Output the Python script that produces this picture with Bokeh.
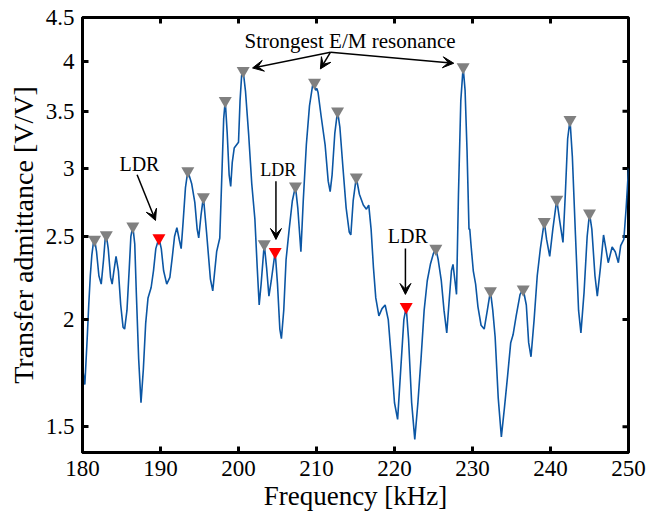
import math
from bokeh.plotting import figure
from bokeh.models import Range1d, FixedTicker, Arrow, VeeHead, Label
from bokeh.embed import file_html
from bokeh.resources import INLINE

# ---- data ----
freq = [180.0, 180.3, 180.6, 180.8, 181.0, 181.2, 181.4, 181.55, 181.8, 182.1, 182.4, 182.7, 182.9, 183.05,
        183.3, 183.6, 183.8, 184.0, 184.3, 184.6, 184.9, 185.2, 185.4, 185.7, 186.0, 186.2, 186.45, 186.7,
        186.9, 187.2, 187.5, 187.8, 188.1, 188.4, 188.8, 189.1, 189.4, 189.8, 190.1, 190.4, 190.8, 191.2,
        191.5, 191.8, 192.1, 192.4, 192.65, 192.9, 193.2, 193.5, 194.0, 194.4, 194.7, 194.9, 195.2, 195.5,
        195.9, 196.4, 196.7, 197.2, 197.6, 197.9, 198.1, 198.3, 198.55, 198.8, 199.0, 199.2, 199.45, 200.0,
        200.2, 200.4, 200.6, 200.9, 201.3, 201.7, 202.1, 202.4, 202.65, 202.9, 203.3, 203.6, 203.9, 204.2,
        204.7, 205.0, 205.3, 205.5, 205.8, 206.1, 206.5, 206.9, 207.3, 207.6, 208.0, 208.3, 208.7, 209.1,
        209.5, 209.75, 209.9, 210.05, 210.2, 210.6, 211.1, 211.5, 211.75, 212.0, 212.35, 212.7, 213.0, 213.4,
        213.8, 214.2, 214.4, 214.7, 215.1, 215.5, 216.0, 216.4, 216.7, 217.0, 217.3, 217.6, 218.0, 218.4,
        218.8, 219.2, 219.6, 220.0, 220.4, 220.8, 221.2, 221.5, 221.8, 222.2, 222.6, 223.0, 223.4, 223.8,
        224.2, 224.6, 225.0, 225.3, 225.6, 226.0, 226.35, 226.7, 227.0, 227.3, 227.5, 227.75, 227.95, 228.2,
        228.5, 228.8, 229.05, 229.3, 229.55, 229.65, 229.8, 230.1, 230.4, 230.7, 231.1, 231.5, 231.9, 232.3,
        232.6, 232.9, 233.3, 233.7, 234.1, 234.5, 234.9, 235.2, 235.6, 236.1, 236.5, 236.9, 237.2, 237.5,
        237.9, 238.3, 238.7, 239.2, 239.5, 239.9, 240.3, 240.8, 241.2, 241.6, 241.9, 242.2, 242.5, 242.8,
        243.2, 243.6, 243.9, 244.3, 244.7, 245.0, 245.3, 245.7, 246.0, 246.4, 246.8, 247.1, 247.4, 247.9,
        248.3, 248.7, 249.0, 249.4, 249.7, 250.0]
admittance = [1.76, 1.68, 1.90, 2.08, 2.25, 2.38, 2.46, 2.48, 2.40, 2.25, 2.20, 2.35, 2.48, 2.51,
              2.42, 2.24, 2.20, 2.27, 2.37, 2.28, 2.08, 1.96, 1.95, 2.05, 2.30, 2.50, 2.57, 2.45,
              2.15, 1.80, 1.60, 1.75, 1.98, 2.12, 2.18, 2.28, 2.42, 2.49, 2.42, 2.28, 2.20, 2.24,
              2.36, 2.50, 2.56, 2.48, 2.42, 2.60, 2.85, 2.98, 2.88, 2.74, 2.55, 2.49, 2.65, 2.78,
              2.53, 2.23, 2.16, 2.40, 2.49, 3.01, 3.43, 3.60, 3.30, 2.95, 2.86, 3.05, 3.17, 3.22,
              3.60, 3.85, 3.90, 3.69, 3.29, 2.88, 2.62, 2.30, 2.08, 2.20, 2.45, 2.30, 2.13, 2.22,
              2.40, 2.20, 1.95, 1.90, 2.05, 2.35, 2.55, 2.75, 2.86, 2.70, 2.40, 2.75, 3.20, 3.55,
              3.75, 3.78, 3.70, 3.72, 3.68, 3.45, 3.20, 2.90, 2.82, 2.95, 3.30, 3.50, 3.35, 3.00,
              2.70, 2.53, 2.51, 2.75, 2.93, 2.80, 2.72, 2.69, 2.72, 2.55, 2.30, 2.12, 2.02, 2.06,
              2.08, 2.00, 1.80, 1.60, 1.53, 1.75, 2.00, 2.07, 1.90, 1.60, 1.45, 1.60, 1.80, 2.05,
              2.22, 2.32, 2.39, 2.42, 2.35, 2.22, 2.05, 1.93, 2.10, 2.28, 2.32, 2.22, 2.14, 2.80,
              3.60, 3.94, 3.70, 3.15, 2.55, 2.55, 2.45, 2.28, 2.20, 2.07, 1.97, 1.95, 2.05, 2.16,
              2.05, 1.91, 1.62, 1.46, 1.58, 1.72, 1.88, 1.92, 2.02, 2.14, 2.17, 2.08, 1.88, 1.81,
              2.00, 2.25, 2.42, 2.60, 2.48, 2.37, 2.55, 2.76, 2.60, 2.46, 2.80, 3.25, 3.42, 3.10,
              2.51, 2.05, 1.93, 2.15, 2.50, 2.66, 2.55, 2.25, 2.13, 2.30, 2.51, 2.42, 2.33, 2.43,
              2.40, 2.33, 2.44, 2.48, 2.70, 3.00]

peak_freq = [181.55, 183.05, 186.45, 193.5, 195.5, 198.3, 200.6, 203.3, 207.3, 209.75,
             212.7, 215.1, 225.3, 228.8, 232.3, 236.5, 239.2, 240.8, 242.5, 245.0]
peak_val = [2.48, 2.51, 2.57, 2.98, 2.78, 3.60, 3.90, 2.45, 2.86, 3.78,
            3.50, 2.93, 2.42, 3.94, 2.16, 2.17, 2.60, 2.76, 3.42, 2.66]
ldr_freq = [189.8, 204.7, 221.5]
ldr_val = [2.49, 2.40, 2.07]

x_ticks = [180, 190, 200, 210, 220, 230, 240, 250]
y_ticks = [1.5, 2, 2.5, 3, 3.5, 4, 4.5]
y_tick_labels = ["1.5", "2", "2.5", "3", "3.5", "4", "4.5"]
x_lim = (180, 250)
y_lim = (1.4, 4.5)

# annotations
strong_text = "Strongest E/M resonance"
strong_pos = (214.3, 4.23)
strong_origin = (211.8, 4.10)
strong_targets_x = [201.8, 210.5, 227.6]
strong_targets_y = [3.93, 3.92, 3.98]
ldr_text_x = [187.3, 205.1, 221.7]
ldr_text_y = [3.04, 2.99, 2.50]
ldr_text_size = ["20px", "18px", "20px"]
ldr_arrow_x0 = [187.0, 204.8, 221.4]
ldr_arrow_y0 = [2.95, 2.90, 2.42]
ldr_arrow_x1 = [189.36, 204.8, 221.4]
ldr_arrow_y1 = [2.61, 2.48, 2.14]

FONT = "Liberation Serif"

p = figure(width=648, height=521, y_axis_type="log",
           x_range=Range1d(*x_lim), y_range=Range1d(*y_lim),
           output_backend="svg", toolbar_location=None,
           min_border_left=82, min_border_right=20, min_border_top=17, min_border_bottom=69)
p.grid.visible = False
p.background_fill_color = "white"
p.border_fill_color = "white"
p.outline_line_color = "black"
p.outline_line_width = 3

p.xaxis.ticker = FixedTicker(ticks=x_ticks)
p.yaxis.ticker = FixedTicker(ticks=y_ticks)
p.yaxis.major_label_overrides = {t: l for t, l in zip(y_ticks, y_tick_labels)}

for ax in p.xaxis + p.yaxis:
    ax.axis_line_color = "black"
    ax.axis_line_width = 3
    ax.major_tick_in = 6
    ax.major_tick_out = 0
    ax.major_tick_line_width = 3
    ax.major_tick_line_color = "black"
    ax.minor_tick_line_color = None
    ax.major_label_text_font = FONT
    ax.major_label_text_font_size = "23px"
    ax.major_label_text_color = "black"
    ax.axis_label_text_font = FONT
    ax.axis_label_text_font_style = "normal"
    ax.axis_label_text_color = "black"

p.xaxis.axis_label = "Frequency [kHz]"
p.xaxis.axis_label_text_font_size = "27px"
p.xaxis.major_label_standoff = 8
p.xaxis.axis_label_standoff = 2
p.yaxis.axis_label = "Transfer admittance [V/V]"
p.yaxis.axis_label_text_font_size = "28px"
p.yaxis.major_label_standoff = 8
p.yaxis.axis_label_standoff = 4

# mirrored tick stubs on the top and right edges (clipped to the frame)
p.scatter(x_ticks, [y_lim[1]] * len(x_ticks), marker="dash", angle=math.pi / 2, size=12,
          line_color="black", line_width=3)
p.scatter([x_lim[1]] * len(y_ticks), y_ticks, marker="dash", size=12,
          line_color="black", line_width=3)

p.line(freq, admittance, line_color="#0b56a4", line_width=1.6)
p.scatter(peak_freq, peak_val, marker="inverted_triangle", size=13,
          fill_color="#808080", line_color=None)
p.scatter(ldr_freq, ldr_val, marker="inverted_triangle", size=13,
          fill_color="#ff0000", line_color=None)

p.add_layout(Label(x=strong_pos[0], y=strong_pos[1], text=strong_text, text_align="center",
                   text_baseline="middle", text_font=FONT, text_font_size="21px", text_color="black"))
for tx, ty in zip(strong_targets_x, strong_targets_y):
    p.add_layout(Arrow(end=VeeHead(size=11, fill_color="black", line_color="black"),
                       x_start=strong_origin[0], y_start=strong_origin[1], x_end=tx, y_end=ty,
                       line_color="black", line_width=1.5))
for tx, ty, ts in zip(ldr_text_x, ldr_text_y, ldr_text_size):
    p.add_layout(Label(x=tx, y=ty, text="LDR", text_align="center", text_baseline="middle",
                       text_font=FONT, text_font_size=ts, text_color="black"))
for x0, y0, x1, y1 in zip(ldr_arrow_x0, ldr_arrow_y0, ldr_arrow_x1, ldr_arrow_y1):
    p.add_layout(Arrow(end=VeeHead(size=11, fill_color="black", line_color="black"),
                       x_start=x0, y_start=y0, x_end=x1, y_end=y1,
                       line_color="black", line_width=1.5))

open("out.html", "w").write(file_html(p, INLINE))
